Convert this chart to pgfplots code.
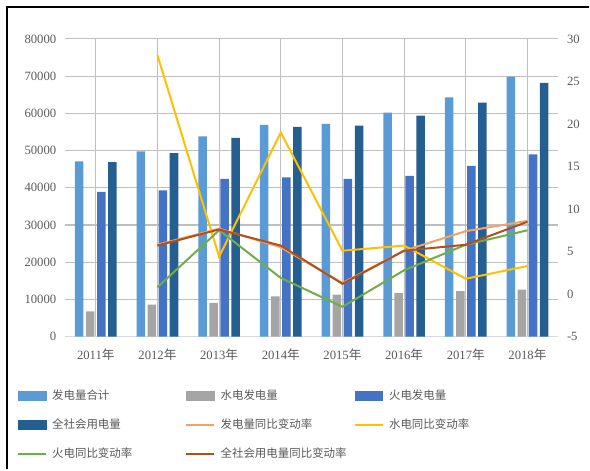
\documentclass[border=0pt]{standalone}
\usepackage{fontspec}
\setmainfont{Liberation Serif}
\newfontfamily\cjk{Noto Sans CJK SC}
\usepackage{pgfplots}
\usepackage{pgfplotstable}
\pgfplotsset{compat=1.18}

\definecolor{cTotal}{HTML}{5B9BD5}
\definecolor{cHydro}{HTML}{A5A5A5}
\definecolor{cThermal}{HTML}{4472C4}
\definecolor{cUse}{HTML}{255E91}
\definecolor{lGen}{HTML}{F4A266}
\definecolor{lHydro}{HTML}{FFC000}
\definecolor{lThermal}{HTML}{70AD47}
\definecolor{lUse}{HTML}{B0501A}
\definecolor{txt}{HTML}{595959}
\definecolor{grid}{HTML}{D9D9D9}

% bars: 发电量合计, 水电发电量, 火电发电量, 全社会用电量
\pgfplotstableread{
x total hydro thermal use
0 47100 6800  38900 46900
1 49800 8600  39300 49300
2 53800 9050  42400 53400
3 56900 10800 42800 56400
4 57200 11300 42400 56700
5 60200 11700 43200 59400
6 64300 12200 45900 62900
7 69900 12600 49000 68200
}\bars

% lines: 同比变动率 (%)
\pgfplotstableread{
x gen hydro thermal use
1 5.8 28.1 0.8 5.7
2 7.7 4.4  7.5 7.6
3 5.5 19.0 1.9 5.7
4 1.3 5.1  -1.5 1.2
5 5.1 5.7  2.8 5.1
6 7.4 1.8  5.8 5.8
7 8.6 3.3  7.5 8.5
}\rates

\newcommand{\lt}[1]{\makebox[98pt][l]{#1}}

\begin{document}
\begin{tikzpicture}
\path (0pt,0pt) rectangle (442.5pt,352.5pt);
\draw[black, line width=1.1pt] (5.25pt,0pt) -- (5.25pt,347.25pt) -- (442.5pt,347.25pt);

\begin{axis}[
    at={(48.75pt,99.75pt)}, anchor=south west,
    scale only axis, width=370.5pt, height=223.5pt,
    xmin=-0.5, xmax=7.5, ymin=0, ymax=80000,
    ytick={0,10000,...,80000},
    scaled y ticks=false,
    xtick={0,...,7},
    xticklabels={2011{\cjk 年},2012{\cjk 年},2013{\cjk 年},2014{\cjk 年},
        2015{\cjk 年},2016{\cjk 年},2017{\cjk 年},2018{\cjk 年}},
    axis x line*=bottom, axis y line*=left,
    x axis line style={draw=grid, line width=0.8pt, -},
    y axis line style={draw=none},
    major tick length=0pt,
    ymajorgrids, grid style={grid, line width=0.8pt},
    tick label style={font=\fontsize{9.5}{11}\selectfont, text=txt},
    /pgf/number format/assume math mode=true,
    /pgf/number format/1000 sep={},
    yticklabel style={xshift=-3pt},
    xticklabel style={yshift=-6pt},
    ybar=1.9pt, bar width=6.4pt,
]
\addplot[fill=cTotal, draw=none] table[x=x, y=total] {\bars};
\addplot[fill=cHydro, draw=none] table[x=x, y=hydro] {\bars};
\addplot[fill=cThermal, draw=none] table[x=x, y=thermal] {\bars};
\addplot[fill=cUse, draw=none] table[x=x, y=use] {\bars};
\end{axis}

\begin{axis}[
    at={(48.75pt,99.75pt)}, anchor=south west,
    scale only axis, width=370.5pt, height=223.5pt,
    xmin=-0.5, xmax=7.5, ymin=-5, ymax=30,
    ytick={-5,0,...,30},
    axis x line=none, axis y line*=right,
    y axis line style={draw=none},
    major tick length=0pt,
    tick label style={font=\fontsize{9.5}{11}\selectfont, text=txt},
    /pgf/number format/assume math mode=true,
    yticklabel style={xshift=3pt},
    legend columns=3,
    legend cell align=left,
    legend image code/.code={\draw[#1] (0pt,0pt) -- (21pt,0pt);},
    legend style={
        at={(-0.106,-0.16)}, anchor=north west,
        draw=none, fill=none,
        font=\cjk\fontsize{8.6}{10}\selectfont, text=txt,
        /tikz/every even column/.append style={column sep=0pt},
        /tikz/every odd column/.append style={column sep=2pt},
        /tikz/row sep=9pt,
    },
]
\addlegendimage{legend image code/.code={\fill[cTotal] (0pt,-3.2pt) rectangle (21pt,3.2pt);}}
\addlegendentry{\lt{发电量合计}}
\addlegendimage{legend image code/.code={\fill[cHydro] (0pt,-3.2pt) rectangle (21pt,3.2pt);}}
\addlegendentry{\lt{水电发电量}}
\addlegendimage{legend image code/.code={\fill[cThermal] (0pt,-3.2pt) rectangle (21pt,3.2pt);}}
\addlegendentry{火电发电量}
\addlegendimage{legend image code/.code={\fill[cUse] (0pt,-3.2pt) rectangle (21pt,3.2pt);}}
\addlegendentry{\lt{全社会用电量}}
\addplot[lGen, line width=1.5pt] table[x=x, y=gen] {\rates};
\addlegendentry{\lt{发电量同比变动率}}
\addplot[lHydro, line width=1.5pt] table[x=x, y=hydro] {\rates};
\addlegendentry{水电同比变动率}
\addplot[lThermal, line width=1.5pt] table[x=x, y=thermal] {\rates};
\addlegendentry{\lt{火电同比变动率}}
\addplot[lUse, line width=1.5pt] table[x=x, y=use] {\rates};
\addlegendentry{\lt{全社会用电量同比变动率}}
\end{axis}
\end{tikzpicture}
\end{document}
